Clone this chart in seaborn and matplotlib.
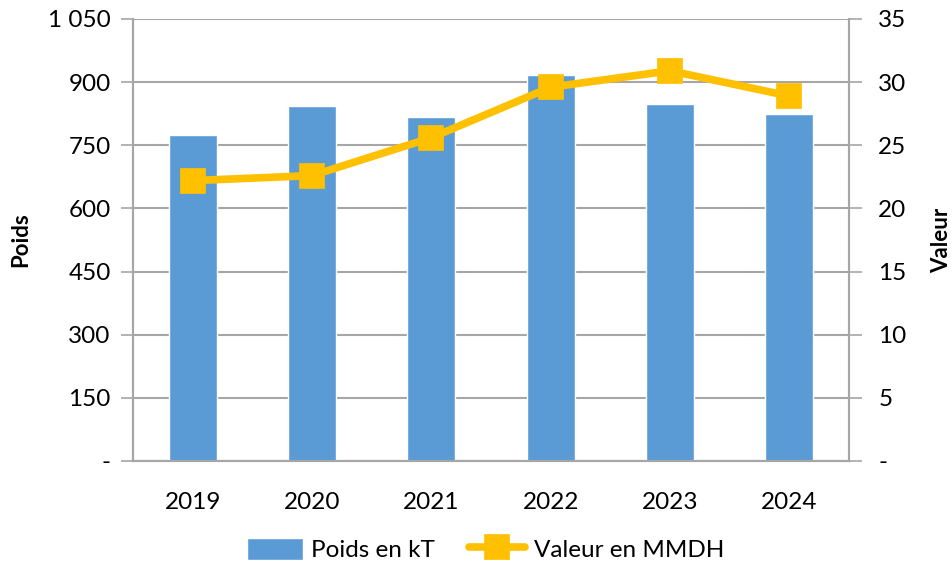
# -*- coding: utf-8 -*-
"""
Poids (kT) et valeur (MMDH) par année - barres + ligne sur axe secondaire.
"""

import pandas as pd
import seaborn as sns
from matplotlib import pyplot as plt
from matplotlib.ticker import FixedLocator


# données
years = ['2019', '2020', '2021', '2022', '2023', '2024']
poids_kt = [774, 843, 817, 917, 848, 824]
valeur_mmdh = [22.2, 22.6, 25.6, 29.6, 30.9, 28.9]

left_ticks = [0, 150, 300, 450, 600, 750, 900, 1050]
left_labels = ['-', '150', '300', '450', '600', '750', '900', '1 050']
right_ticks = [0, 5, 10, 15, 20, 25, 30, 35]
right_labels = ['-', '5', '10', '15', '20', '25', '30', '35']

df = pd.DataFrame({'year': years, 'poids': poids_kt, 'valeur': valeur_mmdh})

bar_color = '#5b9bd5'
line_color = '#ffc000'
grid_color = '#a6a6a6'

sns.set_style('white')
plt.rcParams['font.family'] = ['Lato', 'DejaVu Sans']
plt.rcParams['text.color'] = 'black'
plt.rcParams['xtick.labelcolor'] = 'black'
plt.rcParams['ytick.labelcolor'] = 'black'
plt.rcParams['axes.labelcolor'] = 'black'

fig = plt.figure(figsize=(9.52, 5.67), dpi=100)
ax = fig.add_axes([0.1397, 0.187, 0.7521, 0.7795])

##
# barres (axe gauche)
##
sns.barplot(data=df, x='year', y='poids', color=bar_color, width=0.40,
            saturation=1, ax=ax, zorder=2, label='Poids en kT')
ax.set_ylim(0, 1050)
ax.set_xlim(-0.5, 5.5)
ax.set_yticks(left_ticks)
ax.set_yticklabels(left_labels)
ax.yaxis.grid(True, color=grid_color, linewidth=1.5)
ax.set_axisbelow(True)
ax.set_xlabel('')
ax.set_ylabel('Poids', fontsize=16, fontweight='bold', labelpad=12)

# ticks aux séparations des catégories
ax.xaxis.set_minor_locator(FixedLocator([i - 0.5 for i in range(len(years) + 1)]))
ax.tick_params(axis='x', which='major', length=0, labelsize=17.5, pad=22)
ax.tick_params(axis='x', which='minor', length=9, width=1.2, color=grid_color)
ax.tick_params(axis='y', length=9, width=1.2, color=grid_color, labelsize=17.5, pad=7)

for side in ['left', 'bottom', 'right']:
    ax.spines[side].set_color(grid_color)
    ax.spines[side].set_linewidth(1.5)
ax.spines['top'].set_visible(False)

##
# ligne (axe droit)
##
ax2 = ax.twinx()
sns.pointplot(data=df, x='year', y='valeur', color=line_color, markers='s',
              markersize=14, linewidth=5.5, ax=ax2, label='Valeur en MMDH')
ax2.set_ylim(0, 35)
ax2.set_xlim(-0.5, 5.5)
ax2.set_yticks(right_ticks)
ax2.set_yticklabels(right_labels)
ax2.tick_params(axis='y', length=9, width=1.2, color=grid_color, labelsize=17.5, pad=12)
ax2.set_ylabel('Valeur', fontsize=16, fontweight='bold', labelpad=18)
ax2.set_xlabel('')
for side in ['left', 'bottom', 'right']:
    ax2.spines[side].set_color(grid_color)
    ax2.spines[side].set_linewidth(1.5)
ax2.spines['top'].set_visible(False)
for lbl in ax2.get_yticklabels():
    lbl.set_horizontalalignment('left')

# légende en bas
h1, l1 = ax.get_legend_handles_labels()
h2, l2 = ax2.get_legend_handles_labels()
if ax2.get_legend() is not None:
    ax2.get_legend().remove()
if ax.get_legend() is not None:
    ax.get_legend().remove()
fig.legend(h1 + h2, l1 + l2, loc='lower center', bbox_to_anchor=(0.51, -0.028),
           ncol=2, frameon=False, fontsize=17.5, handlelength=2.3,
           handleheight=1.0, handletextpad=0.35, columnspacing=1.4)

plt.savefig('out.png', dpi=100)
